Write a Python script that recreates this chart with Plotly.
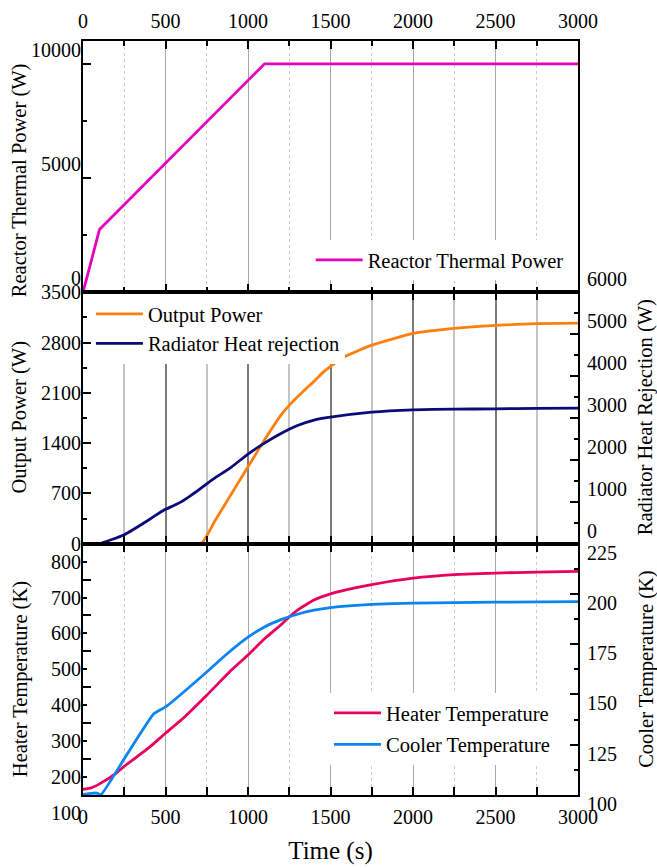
import plotly.graph_objects as go
from plotly.subplots import make_subplots

# ---- reactor thermal power (W) vs time (s)
t_reactor = [0, 100, 1100, 3000]
p_reactor = [0, 2750, 10000, 10000]

# ---- electrical output power (W)
t_output = [0, 715, 800, 900, 1000, 1100, 1200, 1250, 1300, 1350, 1400, 1450,
            1500, 1600, 1750, 2000, 2250, 2500, 2750, 3000]
p_output = [0, 0, 320, 695, 1070, 1445, 1790, 1925, 2045, 2155, 2260, 2375,
            2470, 2620, 2765, 2928, 2998, 3040, 3065, 3072]

# ---- radiator heat rejection (W)
t_radiator = [0, 100, 250, 400, 430, 500, 550, 600, 650, 700, 750, 800, 900,
              1000, 1100, 1200, 1300, 1400, 1500, 1750, 2000, 2250, 2500, 2750, 3000]
q_radiator = [0, 0, 215, 570, 650, 820, 910, 1010, 1140, 1280, 1430, 1570, 1830,
              2140, 2400, 2630, 2820, 2950, 3020, 3140, 3195, 3210, 3220, 3228, 3235]

# ---- heater temperature (K)
t_heater = [0, 50, 100, 200, 250, 400, 500, 600, 750, 900, 1000, 1100, 1200,
            1250, 1300, 1400, 1500, 1600, 1750, 2000, 2250, 2500, 2750, 3000]
T_heater = [116, 120, 131, 160, 180, 232, 272, 311, 378, 448, 490, 535, 574,
            596, 615, 643, 660, 672, 686, 704, 714, 718, 721, 723]

# ---- cooler temperature (K)
t_cooler = [0, 50, 80, 110, 250, 430, 500, 600, 750, 870, 1000, 1100, 1200,
            1300, 1400, 1500, 1750, 2000, 2500, 3000]
T_cooler = [100.3, 100.8, 101.0, 100.3, 118, 140.5, 143.8, 150.5, 161.2, 170,
            178.5, 183.6, 187.2, 189.9, 191.9, 193.2, 194.8, 195.4, 195.9, 196.2]

FONT = "Liberation Serif"
LW = 2.8

fig = make_subplots(
    rows=3, cols=1, vertical_spacing=0,
    specs=[[{}], [{"secondary_y": True}], [{"secondary_y": True}]],
)

fig.add_trace(go.Scatter(x=t_reactor, y=p_reactor, mode="lines",
                         name="Reactor Thermal Power", legend="legend",
                         line=dict(color="#e600c0", width=LW)), row=1, col=1)

fig.add_trace(go.Scatter(x=t_output, y=p_output, mode="lines",
                         name="Output Power", legend="legend2",
                         line=dict(color="#ff7f0e", width=LW, shape="spline", smoothing=0.4)),
              row=2, col=1, secondary_y=False)
fig.add_trace(go.Scatter(x=t_radiator, y=q_radiator, mode="lines",
                         name="Radiator Heat rejection", legend="legend2",
                         line=dict(color="#0a0a78", width=LW, shape="spline", smoothing=0.4)),
              row=2, col=1, secondary_y=True)

fig.add_trace(go.Scatter(x=t_heater, y=T_heater, mode="lines",
                         name="Heater Temperature", legend="legend3", legendgroup="h",
                         line=dict(color="#e8005c", width=LW, shape="spline", smoothing=0.4)),
              row=3, col=1, secondary_y=False)
fig.add_trace(go.Scatter(x=t_cooler, y=T_cooler, mode="lines",
                         name="Cooler Temperature", legend="legend3", legendgroup="c",
                         line=dict(color="#0a84f0", width=LW, shape="spline", smoothing=0.4)),
              row=3, col=1, secondary_y=True)

tickfont = dict(family=FONT, size=20, color="black")

xcommon = dict(
    domain=[0, 1], range=[0, 3000], tick0=0, dtick=500, ticks="inside", ticklen=8,
    tickwidth=2, tickcolor="black", showline=True, linewidth=2, linecolor="black",
    mirror="allticks", zeroline=False, tickfont=tickfont, tickformat="d",
    automargin=False, ticklabelstandoff=3,
)
light_grid = dict(showgrid=True, gridcolor="#a8a8a8", gridwidth=1)
light_minor = dict(dtick=250, ticks="inside", ticklen=5, tickwidth=1.5, tickcolor="black",
                   showgrid=True, gridcolor="#cccccc", gridwidth=1, griddash="dot")

fig.update_xaxes(row=1, col=1, side="top", showticklabels=True,
                 minor=light_minor, **light_grid, **xcommon)
fig.update_xaxes(row=2, col=1, showticklabels=False,
                 showgrid=True, gridcolor="#7c7c7c", gridwidth=2,
                 minor=dict(dtick=250, ticks="inside", ticklen=5, tickwidth=1.5,
                            tickcolor="black", showgrid=True, gridcolor="#c4c4c4",
                            gridwidth=2, griddash="solid"),
                 **xcommon)
fig.update_xaxes(row=3, col=1, side="bottom", showticklabels=True,
                 minor=light_minor, **light_grid, **xcommon,
                 title=dict(text="Time (s)", font=dict(family=FONT, size=25, color="black"),
                            standoff=14))

ycommon = dict(ticks="inside", ticklen=8, tickwidth=2, tickcolor="black",
               showline=True, linewidth=2, linecolor="black", zeroline=False,
               showgrid=False, tickfont=tickfont, tickformat="d", automargin=False)
yminor = lambda d: dict(dtick=d, ticks="inside", ticklen=4, tickwidth=1.5,
                        tickcolor="black", showgrid=False)

fig.update_yaxes(row=1, col=1, range=[0, 11000], tick0=0, dtick=5000,
                 minor=yminor(2500), mirror=True, ticklabelshift=-14,
                 ticklabelstandoff=-4, **ycommon)
fig.update_yaxes(row=2, col=1, secondary_y=False, range=[0, 3500], tick0=0, dtick=700,
                 minor=yminor(350), ticklabelstandoff=-4, **ycommon)
fig.update_yaxes(row=2, col=1, secondary_y=True, range=[0, 6000], tick0=0, dtick=1000,
                 minor=yminor(500), ticklabelshift=-13, ticklabelstandoff=3, **ycommon)
fig.update_yaxes(row=3, col=1, secondary_y=False, range=[100, 800], tick0=100, dtick=100,
                 minor=yminor(50), ticklabelshift=18, ticklabelstandoff=-4, **ycommon)
fig.update_yaxes(row=3, col=1, secondary_y=True, range=[100, 225], tick0=100, dtick=25,
                 minor=yminor(12.5), ticklabelshift=9, ticklabelstandoff=3, **ycommon)

legfont = dict(family=FONT, size=20.5, color="black")
legcommon = dict(font=legfont, bgcolor="white", borderwidth=0, itemwidth=47,
                 xanchor="left", yanchor="top", tracegroupgap=2)

fig.update_layout(
    width=657, height=868,
    margin=dict(l=83, r=79, t=41, b=73, autoexpand=False),
    paper_bgcolor="white", plot_bgcolor="white",
    showlegend=True,
    font=dict(family=FONT, size=20, color="black"),
    legend=dict(x=0.46, y=0.736, **legcommon),
    legend2=dict(x=0.016, y=0.6645, **legcommon),
    legend3=dict(x=0.497, y=0.1353, **legcommon),
)

# axis titles
title_font = dict(family=FONT, size=20.5, color="black")
titles = [
    ("Reactor Thermal Power (W)", -0.129, 0.8156),
    ("Output Power (W)", -0.129, 0.5007),
    ("Heater Temperature (K)", -0.127, 0.1538),
    ("Radiator Heat Rejection (W)", 1.137, 0.5007),
    ("Cooler Temperature (K)", 1.137, 0.1671),
]
for text, x, y in titles:
    fig.add_annotation(text=text, x=x, y=y, xref="paper", yref="paper",
                       textangle=-90, showarrow=False, font=title_font,
                       xanchor="center", yanchor="middle")

fig.write_html("out.html")
